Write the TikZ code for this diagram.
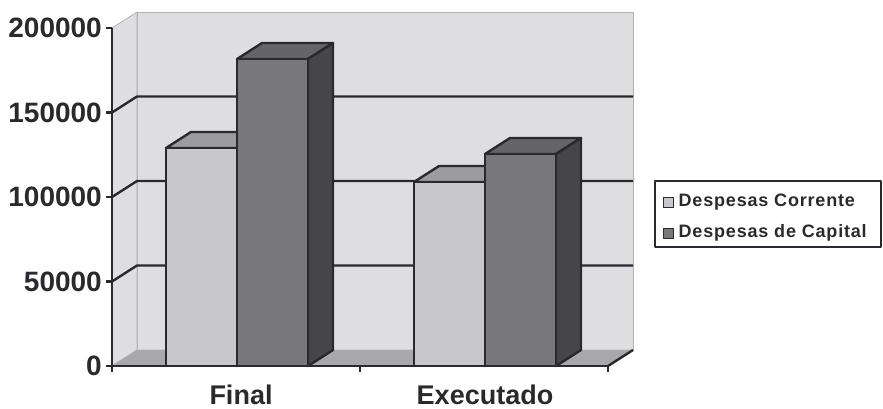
\documentclass[tikz,border=0pt]{standalone}
\usepackage{fontspec}
\setmainfont{Liberation Sans}
\usetikzlibrary{
    positioning % for placing the legend texts next to their keys
}

\definecolor{inkgray}{RGB}{42,42,46}
\definecolor{edgegray}{RGB}{178,178,182}
\definecolor{wallgray}{RGB}{222,221,224}
\definecolor{floorgray}{RGB}{168,168,171}
\definecolor{lightfront}{RGB}{200,199,203}
\definecolor{lighttop}{RGB}{156,156,159}
\definecolor{lightside}{RGB}{130,130,133}
\definecolor{darkfront}{RGB}{120,119,122}
\definecolor{darktop}{RGB}{101,101,104}
\definecolor{darkside}{RGB}{70,70,73}

\begin{document}
\begin{tikzpicture}[
    x=1pt,y=-1pt,line join=round,
    every node/.style  = {inner sep=0pt,text=inkgray,font=\bfseries},
    wall/.style        = {fill=wallgray,draw=edgegray,line width=0.8},
    grid line/.style   = {draw=inkgray,line width=2.4},
    axis line/.style   = {draw=inkgray,line width=2.4},
    face/.style        = {draw=inkgray,line width=2.4},
    tick label/.style  = {anchor=east,font=\bfseries\fontsize{28}{30}\selectfont},
    cat label/.style   = {anchor=base,font=\bfseries\fontsize{27}{29}\selectfont},
    key/.style         = {draw=inkgray,line width=1,minimum size=10pt},
    legend text/.style = {anchor=west,font=\bfseries\fontsize{18}{20}\selectfont\addfontfeature{LetterSpace=4.5}}
]
\useasboundingbox (0,0) rectangle (883,408);

% Walls and floor of the 3-D box

    \filldraw[wall] (112,28) -- (137,12) -- (137,350) -- (112,366) -- cycle;
    \filldraw[wall] (137,12) rectangle (633,350);
    \filldraw[wall,fill=floorgray] (112,366) -- (137,350) -- (633,350) -- (608,366) -- cycle;
    \draw[axis line] (608,366) -- (633,350);

    \foreach \y in {112.5,197,281.5}
        \draw[grid line] (112,\y) -- ++(25,-16) -- (633,\y-16);

% Bars (Despesas Corrente, then Despesas de Capital)

    \foreach \xa/\xb/\yt/\cf/\ct/\cs in {
            166/237/148/lightfront/lighttop/lightside,
            237/308/59/darkfront/darktop/darkside,
            414/485/182/lightfront/lighttop/lightside,
            485/556/154/darkfront/darktop/darkside}{
        \filldraw[face,fill=\ct] (\xa,\yt) -- ++(25,-16) -- (\xb+25,\yt-16) -- (\xb,\yt) -- cycle;
        \filldraw[face,fill=\cs] (\xb,\yt) -- ++(25,-16) -- (\xb+25,350) -- (\xb,366) -- cycle;
        \filldraw[face,fill=\cf] (\xa,\yt) rectangle (\xb,366);
    }

% Axes

    \draw[axis line] (112,28) -- (112,366) -- (608,366);
    \foreach \v/\y in {0/366,50000/281.5,100000/197,150000/112.5,200000/28}{
        \draw[axis line] (106,\y) -- (112,\y);
        \node[tick label] (v\v) at (102,\y) {\v};
    }
    \foreach \x in {112,360,608}
        \draw[axis line] (\x,366) -- (\x,372);

    \node[cat label] (final)     at (241,404) {Final};
    \node[cat label] (executado) at (485,404) {Executado};

% Legend

    \draw[draw=inkgray,line width=1.6] (655,181) rectangle (881,247);
    \node[key,fill=lightfront] (key1) at (668,202.5) {};
    \node[key,fill=darkfront]  (key2) at (668,233)   {};
    \node[legend text,right=5pt of key1] (corrente) {Despesas Corrente};
    \node[legend text,right=5pt of key2] (capital)  {Despesas de Capital};

\end{tikzpicture}
\end{document}
